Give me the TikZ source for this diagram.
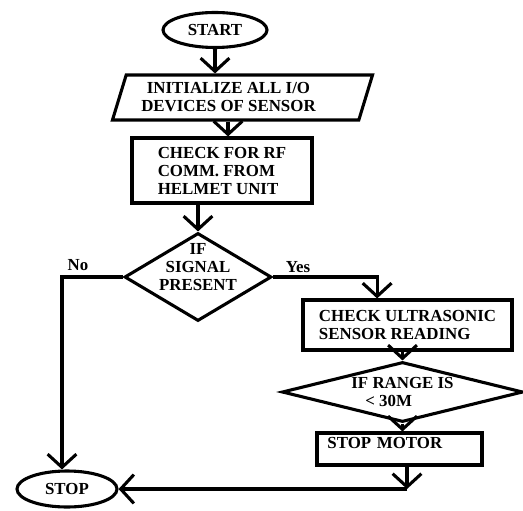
\documentclass[tikz,border=0pt]{standalone}
\usepackage{fontspec}
\setmainfont{Liberation Serif}
\usetikzlibrary{shapes.geometric, arrows.meta}

\begin{document}
\begin{tikzpicture}[x=0.025cm, y=-0.025cm, line width=2.2pt,
  every node/.style={font=\fontsize{12}{12.8}\selectfont\bfseries},
  term/.style={ellipse, draw, inner sep=0pt, minimum width=2.6cm,
               minimum height=0.875cm},
  io/.style={trapezium, trapezium left angle=65, trapezium right angle=115,
             trapezium stretches body, draw, align=center, inner sep=0pt,
             minimum width=6.5cm, minimum height=1.125cm},
  process/.style={rectangle, draw, align=left, inner sep=0pt},
  decision/.style={diamond, draw, align=center, inner sep=-0.5cm,
                   shape aspect=1.67},
  arr/.style={-{Straight Barb[length=0.33cm, width=0.72cm]}}]

  \useasboundingbox (0,0) rectangle (523,510);

  %% Main column
  \node[term] (START) at (215,30) {START};
  \node[io] (INIT) at (242.5,97.5)
    {INITIALIZE ALL I/O\hspace*{0.7cm}\\DEVICES OF SENSOR\hspace*{0.7cm}};
  \node[process, minimum width=4.5cm, minimum height=1.625cm] (RF)
    at (222,170.5) {CHECK FOR RF\\COMM. FROM\\HELMET UNIT};
  \node[decision, minimum width=3.675cm, minimum height=2.2cm,
        text depth=0.5cm] (SIG) at (198,277) {IF\\SIGNAL\\PRESENT};

  %% Yes branch
  \node[process, minimum width=5.225cm, minimum height=1.25cm] (US)
    at (407.5,325) {CHECK ULTRASONIC\\SENSOR READING};
  \node[decision, align=left, inner sep=0pt, shape aspect=4,
        minimum width=6.025cm, minimum height=1.5cm] (RANGE)
    at (402.5,392) {IF RANGE IS\\\hspace*{0.35cm}< 30M};
  \node[process, minimum width=4.125cm, minimum height=0.8cm,
        text width=3.6cm, inner xsep=0.26cm, inner ysep=0.1cm,
        text depth=0.31cm] (MOTOR) at (399.5,449) {STOP MOTOR};

  %% End
  \node[term, minimum width=2.5cm, minimum height=0.9cm] (STOP)
    at (67,489) {STOP};
  \coordinate (BACK) at (407,489);

  %% Branch labels
  \node (NO) at (78,265) {No};
  \node (YES) at (298,267) {Yes};

  %% Connectors
  \draw[arr] (START.south) -- (START.south |- INIT.north);
  \draw[arr] ([xshift=0.15cm]INIT.south -| RF.north) -- ([xshift=0.15cm]RF.north);
  \draw[arr] (RF.south -| SIG.north) -- (SIG.north);
  \draw[arr] (SIG.west) -| ([xshift=-0.125cm]STOP.north);
  \draw[arr] (SIG.east) -| ([xshift=-0.76cm]US.north);
  \draw[arr] (US.south -| RANGE.north) -- (RANGE.north);
  \draw[arr] (RANGE.south) -- (RANGE.south |- MOTOR.north);
  \draw[arr] (MOTOR.south -| BACK) -- (BACK);
  \draw[arr] (BACK) -- (STOP.east);

\end{tikzpicture}
\end{document}
